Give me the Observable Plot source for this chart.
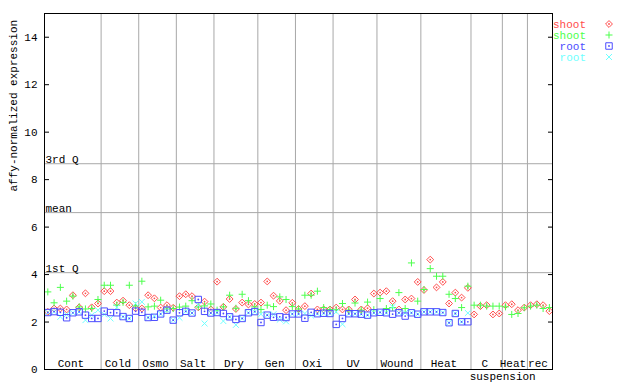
<!DOCTYPE html>
<html><head><meta charset="utf-8">
<script src="https://cdn.jsdelivr.net/npm/d3@7"></script>
<script src="https://cdn.jsdelivr.net/npm/@observablehq/plot@0.6"></script>
<style>body{margin:0;background:#fff} #chart{width:640px;height:384px}</style>
</head><body><div id="chart"></div>
<script>
// ---- data ----
const groupNames = ["Cont","Cold","Osmo","Salt","Dry","Gen","Oxi","UV","Wound","Heat","C","Heat","rec"];
const groupSizes = [9,6,6,6,7,6,6,7,7,8,5,4,4];
const subLabel = "suspension"; // second line of "C" group label
const yTicks = [0,2,4,6,8,10,12,14];
const statNames = ["1st Q","mean","3rd Q"];
const statValues = [4.08, 6.61, 8.67];
const legendNames = ["shoot","shoot","root","root"];
const legendColors = ["#ff4d4d","#4dff4d","#4d4dff","#70ffff"];

const shootA = [2.43,2.57,2.57,2.53,3.13,2.62,3.21,2.62,2.78,3.30,3.30,2.82,2.90,2.71,2.58,2.57,3.13,3.00,2.61,2.71,2.60,
  3.09,3.17,3.09,2.62,2.86,2.53,3.70,2.64,2.97,2.55,2.82,2.74,2.76,2.82,3.71,3.11,2.89,2.50,2.81,2.55,2.67,3.20,2.53,2.53,2.53,
  2.61,2.53,2.53,2.95,2.53,2.58,3.20,3.24,3.30,2.88,2.53,2.95,2.99,3.69,3.35,4.63,3.46,3.69,2.78,3.24,3.03,3.44,
  2.32,2.67,2.71,2.32,2.36,2.71,2.75,2.50,2.61,2.71,2.75,2.71,2.46];
const shootB = [3.27,2.81,3.46,2.88,3.09,2.64,2.55,2.57,2.95,3.55,3.55,2.71,2.83,3.55,2.68,3.72,2.64,2.67,2.92,2.55,2.57,
  2.63,2.67,2.90,2.64,2.68,2.76,2.50,2.64,3.13,2.58,3.17,2.90,2.64,2.53,2.71,2.65,3.06,2.95,2.65,2.55,3.13,3.13,3.30,2.61,2.53,
  2.52,2.78,2.50,2.80,2.50,2.84,2.52,2.99,2.57,2.61,3.24,2.57,4.49,2.88,3.37,4.25,3.93,3.93,3.17,2.99,2.61,3.51,
  2.71,2.71,2.67,2.67,2.67,2.64,2.32,2.36,2.60,2.67,2.71,2.57,2.61];
const rootA = [2.40,2.44,2.41,2.18,2.39,2.43,2.29,2.15,2.15,2.46,2.40,2.39,2.23,2.15,2.46,2.41,2.19,2.20,2.34,2.50,2.08,
  2.39,2.45,2.38,2.95,2.45,2.38,2.40,2.36,2.22,2.11,2.15,2.39,2.44,1.98,2.29,2.20,2.22,2.19,2.34,2.34,2.16,2.41,2.35,2.37,2.36,
  1.90,2.15,2.35,2.35,2.33,2.29,2.39,2.41,2.39,2.33,2.39,2.25,2.39,2.33,2.43,2.43,2.43,2.40,1.97,2.36,2.01,2.01];
const rootB = [2.40,2.44,2.22,2.32,2.39,2.43,2.08,2.29,2.50,2.32,2.15,2.62,2.23,2.15,2.78,2.85,2.19,2.25,2.34,2.50,2.08,
  2.18,2.45,2.38,2.71,1.94,2.38,2.40,2.04,2.22,1.88,2.15,2.39,2.44,2.33,2.29,2.33,2.10,2.03,2.34,2.34,2.36,2.27,2.35,2.37,2.36,
  2.43,1.91,2.35,2.35,2.33,2.29,2.39,2.41,2.39,2.64,2.39,2.39,2.39,2.33,2.43,2.43,2.43,2.40,1.97,2.36,2.01,2.38];

// ---- derived ----
const toRows = (vals) => vals.map((v, i) => ({i, v}));
const starts = groupSizes.reduce((a, s, k) => (a.push(k ? a[k-1] + groupSizes[k-1] : 0), a), []);
const boundaries = starts.slice(1).map(s => s - 0.5);
const groupRows = groupNames.map((name, k) => ({name, c: starts[k] + (groupSizes[k]-1)/2}));
const total = groupSizes.reduce((a,b)=>a+b,0);

const font = "'Liberation Mono', 'DejaVu Sans Mono', monospace";
const grid = "#a8a8a8";

const symDot = (vals, color, symbol, r) => Plot.dot(toRows(vals), {x:"i", y:"v", symbol, r, stroke: color, fill:"none", strokeWidth:1});
const ctrDot = (vals, color) => Plot.dot(toRows(vals), {x:"i", y:"v", r:0.9, fill: color, stroke:"none"});

const chart = Plot.plot({
  width: 640, height: 384,
  marginLeft: 44, marginRight: 88, marginTop: 13, marginBottom: 15,
  style: {fontFamily: font, fontSize: "11px", background: "#fff", color: "#000"},
  x: {domain: [-0.53, total - 0.5], axis: null},
  y: {domain: [0, 15]},
  marks: [
    Plot.ruleX(boundaries, {stroke: grid}),
    Plot.ruleY(statValues, {stroke: grid}),
    Plot.text(statNames, {y: (d, k) => statValues[k], text: d => d, frameAnchor: "left", textAnchor: "start", lineAnchor: "bottom", dx: 1, dy: -1, fill: "#000"}),
    Plot.axisY({anchor: "left", ticks: yTicks, tickSize: 0, tickPadding: 7, label: null, tickFormat: d => d}),
    Plot.axisY({anchor: "left", ticks: yTicks, tickSize: -5, fill: "none", label: null}),
    Plot.axisY({anchor: "right", ticks: yTicks, tickSize: -5, fill: "none", label: null}),
    Plot.text(["affy-normalized expression"], {frameAnchor: "left", rotate: -90, dx: -31, fill: "#000"}),
    symDot(shootA, legendColors[0], "diamond2", 3.1),
    ctrDot(shootA, legendColors[0]),
    symDot(shootB, legendColors[1], "plus", 2.4),
    symDot(rootB, legendColors[3], "times", 2.8),
    symDot(rootA, legendColors[2], "square", 3.6),
    ctrDot(rootA, legendColors[2]),
    Plot.text(groupRows, {x: "c", text: "name", frameAnchor: "bottom", lineAnchor: "bottom", dy: -3, dx: -2, fill: "#000"}),
    Plot.text([subLabel], {x: groupRows[10].c, text: d => d, frameAnchor: "bottom", lineAnchor: "top", dy: 3, dx: 16, fill: "#000"}),
    Plot.frame({stroke: "#000"})
  ]
});

// legend at the right of the plot frame
const svg = d3.select(chart);
const lg = svg.append("g").attr("font-family", font).attr("font-size", 11);
const legendSymbols = [d3.symbolDiamond2, d3.symbolPlus, d3.symbolSquare, d3.symbolTimes];
const legendSizes = [30, 18, 42, 25];
legendNames.forEach((name, k) => {
  const y = 24 + k * 11;
  lg.append("text").attr("x", 586).attr("y", y).attr("dy", "0.35em").attr("text-anchor", "end").attr("fill", legendColors[k]).text(name);
  lg.append("path").attr("transform", `translate(609,${y})`).attr("d", d3.symbol(legendSymbols[k], legendSizes[k])()).attr("fill", "none").attr("stroke", legendColors[k]);
  if (k === 0 || k === 2) lg.append("circle").attr("cx", 609).attr("cy", y).attr("r", 0.9).attr("fill", legendColors[k]);
});

document.getElementById("chart").append(chart);
</script>
</body></html>
